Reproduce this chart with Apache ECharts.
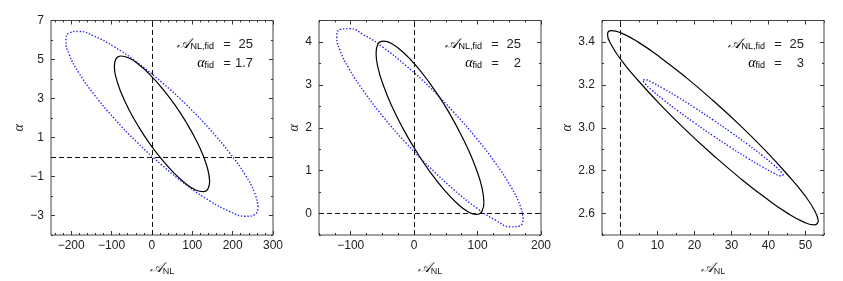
<!DOCTYPE html>
<html><head><meta charset="utf-8">
<script src="https://cdn.jsdelivr.net/npm/echarts@6/dist/echarts.min.js"></script>
<style>html,body{margin:0;padding:0;background:#fff}#c{width:843px;height:281px}</style>
</head><body><div id="c"></div>
<script>
// ---------- data ----------
const fidA = [25, 25, 25];
const fidAlpha = ['1.7', '2', '3'];

const p1XTicks = [-200, -100, 0, 100, 200, 300];
const p1XMinor = [-240, -220, -180, -160, -140, -120, -80, -60, -40, -20, 20, 40, 60, 80, 120, 140, 160, 180, 220, 240, 260, 280];
const p1YTicks = [-3, -1, 1, 3, 5, 7];
const p1YMinor = [-4, -2, 0, 2, 4, 6];

const p2XTicks = [-100, 0, 100, 200];
const p2XMinor = [-150, -125, -75, -50, -25, 25, 50, 75, 125, 150, 175];
const p2YTicks = [0, 1, 2, 3, 4];
const p2YMinor = [-0.5, 0.5, 1.5, 2.5, 3.5, 4.5];

const p3XTicks = [0, 10, 20, 30, 40, 50];
const p3XMinor = [-5, 5, 15, 25, 35, 45, 55];
const p3YTicks = [2.6, 2.8, 3.0, 3.2, 3.4];
const p3YMinor = [2.5, 2.7, 2.9, 3.1, 3.3, 3.5];

const refX = [0, 0, 0];        // dashed vertical lines
const refY = [0, 0, null];     // dashed horizontal lines

const p1Black = [[143,-1.26],[139,-0.68],[127.2,0.06],[108.4,0.91],[84,1.81],[55.6,2.71],[25,3.53],[-5.6,4.24],[-34,4.77],[-58.4,5.09],[-77.2,5.18],[-89,5.03],[-93,4.66],[-89,4.08],[-77.2,3.35],[-58.4,2.49],[-34,1.59],[-5.6,0.69],[25,-0.13],[55.6,-0.84],[84,-1.37],[108.4,-1.69],[127.2,-1.78],[139,-1.63]];
const p1Blue = [[263,-2.55],[254.9,-1.86],[231.1,-0.92],[193.3,0.19],[144,1.41],[86.6,2.65],[25,3.82],[-36.6,4.85],[-94,5.66],[-143.3,6.20],[-181.1,6.44],[-204.9,6.36],[-213,5.95],[-204.9,5.26],[-181.1,4.32],[-143.3,3.21],[-94,1.99],[-36.6,0.75],[25,-0.42],[86.6,-1.45],[144,-2.26],[193.3,-2.80],[231.1,-3.04],[254.9,-2.96]];
const p2Black = [[110,0.26],[107.1,0.59],[98.6,1.01],[85.1,1.50],[67.5,2.02],[47,2.55],[25,3.03],[3,3.45],[-17.5,3.76],[-35.1,3.96],[-48.6,4.02],[-57.1,3.95],[-60,3.74],[-57.1,3.41],[-48.6,2.99],[-35.1,2.50],[-17.5,1.98],[3,1.46],[25,0.97],[47,0.56],[67.5,0.24],[85.1,0.04],[98.6,-0.02],[107.1,0.06]];
const p2Blue = [[172,-0.12],[167,0.19],[152.3,0.63],[128.9,1.16],[98.5,1.75],[63.1,2.35],[25,2.94],[-13.1,3.45],[-48.5,3.87],[-78.9,4.16],[-102.3,4.31],[-117,4.29],[-122,4.12],[-117,3.81],[-102.3,3.37],[-78.9,2.84],[-48.5,2.25],[-13.1,1.65],[25,1.07],[63.1,0.55],[98.5,0.13],[128.9,-0.16],[152.3,-0.31],[167,-0.29]];
const p3Black = [[53.5,2.565],[52.5,2.613],[49.7,2.687],[45.1,2.782],[39.25,2.892],[32.4,3.010],[25,3.127],[17.6,3.236],[10.75,3.328],[4.9,3.398],[0.3,3.441],[-2.5,3.453],[-3.5,3.435],[-2.5,3.387],[0.3,3.313],[4.9,3.218],[10.75,3.108],[17.6,2.990],[25,2.873],[32.4,2.764],[39.25,2.672],[45.1,2.602],[49.7,2.559],[52.5,2.547]];
const p3Blue = [[44,2.778],[43.35,2.795],[41.45,2.826],[38.43,2.869],[34.5,2.921],[29.92,2.978],[25,3.037],[20.08,3.093],[15.5,3.143],[11.57,3.183],[8.55,3.211],[6.65,3.224],[6,3.222],[6.65,3.205],[8.55,3.174],[11.57,3.131],[15.5,3.079],[20.08,3.022],[25,2.963],[29.92,2.907],[34.5,2.857],[38.43,2.817],[41.45,2.789],[43.35,2.776]];

// ---------- layout / style ----------
const FONT = 'Liberation Sans, Arial, sans-serif';
const SERIF = 'Liberation Serif, DejaVu Serif, serif';
const panels = [
  {left: 51, xr: [-250, 300], yr: [-4, 7], xt: p1XTicks, xm: p1XMinor, yt: p1YTicks, ym: p1YMinor, yfmt: v => fmtNum(v, 0), black: p1Black, blue: p1Blue, yGap: 21},
  {left: 319, xr: [-150, 200], yr: [-0.5, 4.5], xt: p2XTicks, xm: p2XMinor, yt: p2YTicks, ym: p2YMinor, yfmt: v => fmtNum(v, 0), black: p2Black, blue: p2Blue, yGap: 15},
  {left: 602, xr: [-5, 55], yr: [2.5, 3.5], xt: p3XTicks, xm: p3XMinor, yt: p3YTicks, ym: p3YMinor, yfmt: v => fmtNum(v, 1), black: p3Black, blue: p3Blue, yGap: 23}
];
const TOP = 20.5, W = 222, H = 220;
function fmtNum(v, d) { return Number(v).toFixed(d).replace('-', '\u2212'); }

const grids = [], xAxes = [], yAxes = [], series = [], graphics = [];
const tickColor = '#333';
function axisSet(dim, gi, range, major, minor, fmt, name, gap) {
  const base = {gridIndex: gi, type: 'value', min: range[0], max: range[1],
    splitLine: {show: false}, axisLine: {show: false, onZero: false}};
  const pos = dim === 'x' ? ['bottom', 'top'] : ['left', 'right'];
  const tk = (vals, len) => ({show: true, inside: true, length: len, customValues: vals, lineStyle: {color: tickColor, width: 1}});
  const nameStyle = dim === 'x'
    ? {rich: {a: {fontFamily: SERIF, fontStyle: 'italic', fontSize: 14, color: '#222'}, s: {fontFamily: FONT, fontSize: 9, color: '#222', padding: [7, 0, 0, 0]}}}
    : {fontFamily: SERIF, fontStyle: 'italic', fontSize: 14, color: '#222'};
  return [
    Object.assign({}, base, {position: pos[0], name: name, nameLocation: 'middle', nameGap: gap, nameTextStyle: nameStyle,
      axisTick: tk(major, 4),
      axisLabel: {show: true, customValues: major, formatter: fmt, fontFamily: FONT, fontSize: 12, color: '#222', margin: dim === 'x' ? 5 : 7}}),
    Object.assign({}, base, {position: pos[1], axisTick: tk(major, 4), axisLabel: {show: false}}),
    Object.assign({}, base, {position: pos[1], axisTick: tk(minor, 2), axisLabel: {show: false}}),
    Object.assign({}, base, {position: pos[0], axisTick: tk(minor, 2), axisLabel: {show: false}})
  ];
}

panels.forEach((p, i) => {
  grids.push({left: p.left, top: TOP, width: W, height: H, show: true, borderColor: '#444', borderWidth: 1, backgroundColor: 'transparent'});
  const xi = xAxes.length, yi = yAxes.length;
  xAxes.push(...axisSet('x', i, p.xr, p.xt, p.xm, v => fmtNum(v, 0), '{a|𝒜}{s|NL}', 25));
  yAxes.push(...axisSet('y', i, p.yr, p.yt, p.ym, p.yfmt, 'α', p.yGap));
  const ml = [];
  if (refX[i] !== null) ml.push({xAxis: refX[i]});
  if (refY[i] !== null) ml.push({yAxis: refY[i]});
  series.push({type: 'line', xAxisIndex: xi, yAxisIndex: yi, data: p.blue.concat([p.blue[0]]), smooth: 0.5,
    showSymbol: false, silent: true, lineStyle: {color: '#2020ff', width: 1.4, type: [1.4, 1.8]}, z: 3});
  series.push({type: 'line', xAxisIndex: xi, yAxisIndex: yi, data: p.black.concat([p.black[0]]), smooth: 0.5,
    showSymbol: false, silent: true, lineStyle: {color: '#000', width: 1.2}, z: 4,
    markLine: {silent: true, symbol: 'none', label: {show: false}, animation: false,
      lineStyle: {color: '#111', width: 1, type: [5, 3]}, data: ml}});
  const R = p.left + W;
  const rich = {a: {fontFamily: SERIF, fontStyle: 'italic', fontSize: 14, color: '#222'},
                s: {fontFamily: FONT, fontSize: 9, color: '#222', padding: [6, 0, 0, 0]}};
  const rows = [['{a|𝒜}{s|NL,fid}', String(fidA[i]), 44], ['{a|α}{s|fid}', fidAlpha[i], 63]];
  rows.forEach(r => {
    graphics.push({type: 'text', x: R - 59, y: r[2], style: {text: r[0], rich: rich, align: 'right', verticalAlign: 'middle'}, silent: true});
    graphics.push({type: 'text', x: R - 46, y: r[2], style: {text: '=', font: '13px ' + FONT, fill: '#222', align: 'center', verticalAlign: 'middle'}, silent: true});
    graphics.push({type: 'text', x: R - 20, y: r[2], style: {text: r[1], font: '13px ' + FONT, fill: '#222', align: 'right', verticalAlign: 'middle'}, silent: true});
  });
});

const chart = echarts.init(document.getElementById('c'), null, {renderer: 'canvas'});
chart.setOption({animation: false, grid: grids, xAxis: xAxes, yAxis: yAxes, series: series, graphic: graphics});
</script></body></html>
